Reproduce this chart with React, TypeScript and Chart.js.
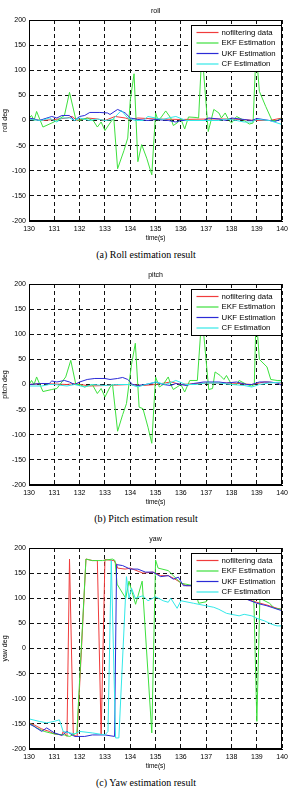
import React, { useEffect, useRef } from 'react';
import { Chart, registerables } from 'chart.js';

Chart.register(...registerables);
Chart.defaults.font.family = "'Liberation Sans', Arial, sans-serif";
Chart.defaults.font.size = 7;
Chart.defaults.color = '#000';

// ---------- data ----------
const seriesLabels = ['nofiltering data', 'EKF Estimation', 'UKF Estimation', 'CF Estimation'];
const seriesColors = ['#f03c3c', '#3de03d', '#2b2bd6', '#33e8e8'];
const xTickMin = 130;
const xTickMax = 140;
const yTickMin = -200;
const yTickMax = 200;

// roll
const rollRawT = [130, 130.5, 131.0, 131.5, 131.7, 131.9, 132.3, 132.7, 133.0, 133.4, 133.8, 134.0, 134.3, 135.0, 136.0, 137.1, 138.0, 139.0, 139.5, 140];
const rollRawV = [3, 0, 2, 5, 8, 0, 5, 3, 0, 8, 5, 2, 5, 3, 2, 3, 3, 0, 0, 5];
const rollEkfT = [130, 130.1, 130.2, 130.3, 130.55, 130.9, 131.1, 131.4, 131.6, 131.85, 132.0, 132.3, 132.55, 132.7, 132.85, 133.0, 133.2, 133.35, 133.5, 133.75, 133.9, 134.0, 134.15, 134.3, 134.45, 134.65, 134.85, 135.0, 135.1, 135.2, 135.4, 135.6, 135.7, 135.9, 136.0, 136.15, 136.3, 136.6, 136.7, 136.83, 137.08, 137.3, 137.5, 137.6, 137.75, 137.9, 138.0, 138.2, 138.5, 138.7, 138.85, 138.97, 139.1, 139.35, 139.6, 139.8, 140];
const rollEkfV = [5, 10, 0, 18, -13, -5, 0, 10, 56, 2, 0, 5, -1, -13, -3, -20, -5, 5, -96, -60, -35, 40, 93, -82, -48, -75, -108, 15, 0, 5, 19, 5, -10, -3, 3, -17, 7, 6, 5, 140, -22, 22, 15, 5, 15, 0, -5, 8, 0, -7, -5, 140, 58, 28, 0, 0, 5];
const rollUkfT = [130, 130.2, 130.4, 130.9, 131.1, 131.3, 131.6, 131.8, 132.0, 132.2, 132.4, 132.8, 133.1, 133.2, 133.5, 133.8, 134.0, 134.3, 134.7, 135.0, 135.5, 135.8, 136.0, 136.5, 136.9, 137.1, 137.5, 137.8, 138.0, 138.5, 138.8, 139.0, 139.5, 139.7, 140];
const rollUkfV = [5, 3, 0, 8, 5, 10, 10, 0, 8, 10, 16, 16, 15, 12, 22, 15, 5, 2, 0, 2, 0, -3, 0, 0, 0, 5, 3, 0, 5, 2, 0, 4, 0, -2, 3];
const rollCfT = [130, 130.5, 130.8, 131.1, 131.3, 131.6, 131.8, 132.0, 132.4, 132.7, 133.0, 133.3, 133.65, 133.9, 134.2, 134.5, 134.7, 135.0, 135.3, 135.5, 135.8, 136.2, 137.0, 137.5, 137.8, 138.2, 138.5, 138.8, 139.0, 139.5, 140];
const rollCfV = [2, 0, 5, -3, 5, 5, 0, 5, 0, 3, 0, 2, 20, 5, 0, 0, 8, 5, 2, 5, 8, 0, 0, 0, 3, 0, -3, -3, 2, 0, -8];

// pitch
const pitchRawT = [130, 130.5, 131.5, 131.8, 132.4, 133.0, 134.0, 134.5, 135.0, 135.6, 136.0, 137.0, 138.0, 138.8, 139.3, 140];
const pitchRawV = [0, 2, 0, 2, -3, -2, 0, -2, 0, 5, 0, 3, 3, 0, 5, 3];
const pitchEkfT = [130, 130.1, 130.2, 130.3, 130.55, 130.9, 131.1, 131.3, 131.45, 131.65, 131.85, 132.0, 132.2, 132.5, 132.7, 132.85, 133.0, 133.2, 133.3, 133.5, 133.7, 133.85, 134.05, 134.2, 134.35, 134.5, 134.7, 134.85, 135.0, 135.15, 135.3, 135.5, 135.6, 135.7, 135.85, 136.0, 136.15, 136.35, 136.65, 136.83, 137.1, 137.25, 137.35, 137.55, 137.7, 137.8, 138.0, 138.2, 138.3, 138.6, 138.8, 138.9, 138.97, 139.1, 139.4, 139.55, 139.8, 140];
const pitchEkfV = [0, 8, 0, 15, -14, -10, -8, 5, 15, 48, 0, 0, -5, 0, -18, -8, -25, -5, 0, -93, -60, -38, 40, 82, -45, -48, -85, -117, 15, -5, 0, 15, 0, -10, -5, 0, -15, 8, 8, 140, -10, -8, 25, 18, 10, 18, 0, 0, 8, 0, -3, 0, 140, 50, 35, 10, 8, 8];
const pitchUkfT = [130, 130.5, 130.8, 130.9, 131.1, 131.4, 131.6, 131.8, 132.0, 132.3, 132.6, 133.0, 133.2, 133.5, 133.7, 133.9, 134.1, 134.3, 134.6, 134.9, 135.0, 135.3, 135.6, 135.8, 136.2, 136.5, 136.9, 137.5, 137.8, 138.2, 138.6, 138.8, 139.1, 139.5, 139.8, 140];
const pitchUkfV = [0, 2, 2, 7, 5, 8, 5, 0, 5, 10, 12, 12, 10, 12, 14, 10, 0, -2, 0, 3, 5, 0, -2, 2, -2, 2, 5, 5, 3, 5, 0, 0, 5, 5, 3, -2];
const pitchCfT = [130, 130.5, 130.8, 131.0, 131.5, 131.8, 132.2, 132.5, 133.0, 133.5, 134.0, 134.3, 134.6, 135.0, 135.4, 135.8, 136.2, 136.6, 137.0, 137.5, 138.0, 138.5, 138.8, 139.1, 139.5, 140];
const pitchCfV = [-3, -3, 0, 0, -3, 0, -5, 0, -2, 0, 0, -5, 0, 5, 0, 8, 0, 0, 3, 3, 0, -2, -5, 0, 3, 5];

// yaw
const yawRawT = [130, 130.2, 130.5, 130.8, 131.0, 131.3, 131.35, 131.5, 131.6, 131.75, 131.9, 132.25, 132.5, 132.7, 132.85, 133.0, 133.35, 133.45, 133.5, 133.8, 134.0, 134.5, 134.9, 135.2, 135.5, 135.7, 136.2, 136.5, 137.0, 137.5, 138.0, 138.5, 139.0, 139.5, 139.8, 140];
const yawRawV = [-148, -152, -160, -165, -170, -172, -165, -175, 178, -172, -175, 178, 175, 175, -172, 177, 175, 168, 160, 158, 160, 150, 152, 145, 145, 140, 125, 125, 118, 112, 108, 100, 92, 85, 80, 78];
const yawEkfT = [130, 130.3, 130.6, 131.0, 131.4, 131.6, 131.89, 132.25, 132.5, 132.9, 133.3, 133.4, 133.48, 133.82, 133.95, 134.21, 134.47, 134.85, 135.0, 135.1, 135.5, 135.7, 136.0, 136.5, 136.7, 137.0, 137.2, 138.0, 138.7, 138.88, 139.0, 139.12, 139.5, 139.7, 140];
const yawEkfV = [-148, -158, -165, -170, -172, -175, -168, 178, 175, 175, 178, 175, 128, 100, 134, 88, 134, -168, 176, 160, 155, 145, 130, 125, 90, 93, 110, 110, 105, 100, -145, 100, 90, 80, 78];
const yawUkfT = [130, 130.2, 130.5, 130.7, 131.0, 131.3, 131.5, 131.8, 132.2, 132.5, 133.0, 133.38, 133.46, 133.7, 134.0, 134.3, 134.6, 134.9, 135.2, 135.5, 135.7, 135.9, 136.1, 136.5, 136.8, 137.2, 137.6, 138.0, 138.5, 139.0, 139.4, 139.7, 140];
const yawUkfV = [-150, -155, -165, -158, -168, -173, -165, -175, -175, -172, -172, -175, 167, 165, 158, 158, 152, 152, 143, 145, 138, 142, 125, 125, 122, 115, 110, 105, 100, 90, 85, 80, 75];
const yawCfT = [130, 130.4, 130.7, 131.0, 131.2, 131.35, 131.8, 132.0, 132.5, 133.0, 133.12, 133.25, 133.42, 133.55, 133.85, 133.95, 134.05, 134.2, 134.5, 134.7, 135.0, 135.3, 135.5, 135.6, 135.85, 136.0, 136.5, 137.0, 137.3, 137.5, 137.8, 138.0, 138.3, 138.5, 138.8, 139.0, 139.3, 139.6, 139.8, 140];
const yawCfV = [-140, -145, -148, -145, -142, -165, -170, -165, -168, -172, -165, 175, -178, -178, 143, 100, 120, 100, 105, 95, 103, 95, 92, 100, 80, 95, 90, 85, 82, 78, 70, 68, 65, 68, 65, 60, 55, 48, 45, 45];

const panels = [
  { title: 'roll', yLabel: 'roll deg', caption: '(a) Roll estimation result',
    t: [rollRawT, rollEkfT, rollUkfT, rollCfT], v: [rollRawV, rollEkfV, rollUkfV, rollCfV] },
  { title: 'pitch', yLabel: 'pitch deg', caption: '(b) Pitch estimation result',
    t: [pitchRawT, pitchEkfT, pitchUkfT, pitchCfT], v: [pitchRawV, pitchEkfV, pitchUkfV, pitchCfV] },
  { title: 'yaw', yLabel: 'yaw deg', caption: '(c) Yaw estimation result',
    t: [yawRawT, yawEkfT, yawUkfT, yawCfT], v: [yawRawV, yawEkfV, yawUkfV, yawCfV] },
];

const frameLegendPlugin = {
  id: 'frameLegend',
  afterDatasetsDraw(chart: any) {
    const { ctx, chartArea: a } = chart;
    ctx.save();
    ctx.setLineDash([]);
    ctx.strokeStyle = '#000';
    ctx.lineWidth = 1;
    const l = Math.round(a.left) + 0.5;
    const t = Math.round(a.top) + 0.5;
    const r = Math.round(a.right) - 0.5;
    const b = Math.round(a.bottom) - 0.5;
    ctx.strokeRect(l, t, r - l, b - t);

    const bw = 90;
    const bh = 46;
    const bx = r - bw;
    const by = t + 5;
    ctx.fillStyle = '#fff';
    ctx.fillRect(bx, by, bw, bh);
    ctx.strokeRect(bx, by, bw, bh);
    ctx.font = "7.8px 'Liberation Sans', Arial, sans-serif";
    ctx.textBaseline = 'middle';
    ctx.textAlign = 'left';
    chart.data.datasets.forEach((ds: any, i: number) => {
      const y = by + 7 + i * 10.5;
      ctx.strokeStyle = ds.borderColor;
      ctx.lineWidth = 1.2;
      ctx.beginPath();
      ctx.moveTo(bx + 5, y);
      ctx.lineTo(bx + 27, y);
      ctx.stroke();
      ctx.fillStyle = '#000';
      ctx.fillText(ds.label, bx + 30, y);
    });
    ctx.restore();
  },
};

function Panel({ p, top }: { p: any; top: number }) {
  const ref = useRef<HTMLCanvasElement>(null);
  useEffect(() => {
    if (!ref.current) return;
    const datasets = seriesLabels.map((label, i) => ({
      label,
      data: p.t[i].map((x: number, k: number) => ({ x, y: p.v[i][k] })),
      borderColor: seriesColors[i],
      backgroundColor: seriesColors[i],
      borderWidth: 1,
      pointRadius: 0,
      tension: 0,
      order: 3 - i,
    }));
    const chart = new Chart(ref.current, {
      type: 'line',
      data: { datasets },
      plugins: [frameLegendPlugin],
      options: {
        animation: false,
        responsive: false,
        events: [],
        layout: { padding: { left: 0, right: 8, top: 0, bottom: 0 } },
        plugins: {
          legend: { display: false },
          tooltip: { enabled: false },
          title: {
            display: true,
            text: p.title,
            fullSize: false,
            color: '#000',
            font: { size: 7, weight: 'normal' },
            padding: { top: 7, bottom: 4.6 },
          },
        },
        scales: {
          x: {
            type: 'linear',
            min: xTickMin,
            max: xTickMax,
            ticks: { stepSize: 1, autoSkip: false, maxRotation: 0, padding: 4, color: '#000', font: { size: 7 } },
            grid: { color: '#111', lineWidth: 1, drawTicks: false },
            border: { display: true, color: '#000', width: 1, dash: [4, 3] },
            title: { display: true, text: 'time(s)', color: '#000', font: { size: 6.5 }, padding: { top: 0, bottom: 2.8 } },
            afterFit: (s: any) => { s.height = 24; },
          },
          y: {
            type: 'linear',
            min: yTickMin,
            max: yTickMax,
            ticks: { stepSize: 50, padding: 3, color: '#000', font: { size: 7 } },
            grid: { color: '#111', lineWidth: 1, drawTicks: false },
            border: { display: true, color: '#000', width: 1, dash: [4, 3] },
            title: { display: true, text: p.yLabel, color: '#000', font: { size: 7 }, padding: { top: 0.8, bottom: 0 } },
            afterFit: (s: any) => { s.width = 29; },
          },
        },
      } as any,
    });
    return () => chart.destroy();
  }, [p]);
  return (
    <div style={{ position: 'absolute', left: 0, top, width: 292, height: 264 }}>
      <canvas ref={ref} width={292} height={245} style={{ display: 'block', width: 292, height: 245 }} />
      <div
        style={{
          position: 'absolute',
          left: 0,
          top: 249,
          width: 292,
          height: 12,
          lineHeight: '12px',
          fontSize: 10,
          fontFamily: "'Liberation Serif', 'Times New Roman', serif",
          textAlign: 'center',
          color: '#000',
          whiteSpace: 'nowrap',
        }}
      >
        {p.caption}
      </div>
    </div>
  );
}

export default function App() {
  return (
    <div style={{ position: 'absolute', left: 0, top: 0, width: 292, height: 789, overflow: 'hidden', background: '#fff' }}>
      {panels.map((p, i) => (
        <Panel key={p.title} p={p} top={i * 264} />
      ))}
    </div>
  );
}
